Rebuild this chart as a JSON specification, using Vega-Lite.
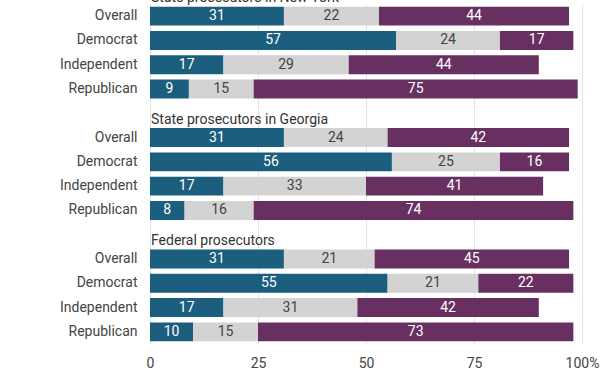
{
  "$schema": "https://vega.github.io/schema/vega-lite/v6.json",
  "width": 432,
  "height": 340,
  "autosize": "none",
  "padding": {"left": 150, "top": 4, "right": 30, "bottom": 30},
  "background": "white",
  "config": {"font": "Roboto", "view": {"stroke": null}},
  "data": {"values": [
    {"key": "NY|Overall", "resp": "a", "value": 31}, {"key": "NY|Overall", "resp": "b", "value": 22}, {"key": "NY|Overall", "resp": "c", "value": 44},
    {"key": "NY|Democrat", "resp": "a", "value": 57}, {"key": "NY|Democrat", "resp": "b", "value": 24}, {"key": "NY|Democrat", "resp": "c", "value": 17},
    {"key": "NY|Independent", "resp": "a", "value": 17}, {"key": "NY|Independent", "resp": "b", "value": 29}, {"key": "NY|Independent", "resp": "c", "value": 44},
    {"key": "NY|Republican", "resp": "a", "value": 9}, {"key": "NY|Republican", "resp": "b", "value": 15}, {"key": "NY|Republican", "resp": "c", "value": 75},
    {"key": "GA|Overall", "resp": "a", "value": 31}, {"key": "GA|Overall", "resp": "b", "value": 24}, {"key": "GA|Overall", "resp": "c", "value": 42},
    {"key": "GA|Democrat", "resp": "a", "value": 56}, {"key": "GA|Democrat", "resp": "b", "value": 25}, {"key": "GA|Democrat", "resp": "c", "value": 16},
    {"key": "GA|Independent", "resp": "a", "value": 17}, {"key": "GA|Independent", "resp": "b", "value": 33}, {"key": "GA|Independent", "resp": "c", "value": 41},
    {"key": "GA|Republican", "resp": "a", "value": 8}, {"key": "GA|Republican", "resp": "b", "value": 16}, {"key": "GA|Republican", "resp": "c", "value": 74},
    {"key": "Fed|Overall", "resp": "a", "value": 31}, {"key": "Fed|Overall", "resp": "b", "value": 21}, {"key": "Fed|Overall", "resp": "c", "value": 45},
    {"key": "Fed|Democrat", "resp": "a", "value": 55}, {"key": "Fed|Democrat", "resp": "b", "value": 21}, {"key": "Fed|Democrat", "resp": "c", "value": 22},
    {"key": "Fed|Independent", "resp": "a", "value": 17}, {"key": "Fed|Independent", "resp": "b", "value": 31}, {"key": "Fed|Independent", "resp": "c", "value": 42},
    {"key": "Fed|Republican", "resp": "a", "value": 10}, {"key": "Fed|Republican", "resp": "b", "value": 15}, {"key": "Fed|Republican", "resp": "c", "value": 73}
  ]},
  "encoding": {
    "y": {
      "field": "key", "type": "nominal",
      "scale": {
        "domain": ["NY|Overall", "NY|Democrat", "NY|Independent", "NY|Republican", "GA|", "GA|Overall", "GA|Democrat", "GA|Independent", "GA|Republican", "Fed|", "Fed|Overall", "Fed|Democrat", "Fed|Independent", "Fed|Republican"],
        "paddingInner": 0.22, "paddingOuter": 0.11
      },
      "axis": {"title": null, "ticks": false, "domain": false, "labelExpr": "split(datum.label, '|')[1]", "labelFontSize": 14, "labelColor": "#444444", "labelPadding": 13, "labelFont": "Roboto"}
    }
  },
  "layer": [
    {
      "mark": {"type": "bar"},
      "encoding": {
        "x": {"field": "value", "type": "quantitative", "stack": "zero",
          "scale": {"domain": [0, 100], "nice": false},
          "axis": {"title": null, "values": [0, 25, 50, 75, 100], "ticks": false, "domain": false, "grid": true, "gridColor": "#e4e4e4", "labelFontSize": 14, "labelColor": "#444444", "labelPadding": 12, "labelFont": "Roboto", "labelFlush": false, "labelExpr": "datum.value == 100 ? '100%' : datum.label"}},
        "color": {"field": "resp", "type": "nominal", "scale": {"domain": ["a", "b", "c"], "range": ["#1b5e7e", "#d3d3d3", "#682f61"]}, "legend": null},
        "order": {"field": "resp", "type": "nominal"}
      }
    },
    {
      "transform": [
        {"stack": "value", "groupby": ["key"], "sort": [{"field": "resp", "order": "ascending"}], "as": ["x0", "x1"]},
        {"calculate": "(datum.x0 + datum.x1) / 2", "as": "mid"}
      ],
      "mark": {"type": "text", "fontSize": 14, "font": "Roboto", "align": "center", "baseline": "middle"},
      "encoding": {
        "x": {"field": "mid", "type": "quantitative"},
        "text": {"field": "value", "type": "quantitative"},
        "color": {"condition": {"test": "datum.resp === 'b'", "value": "#444444"}, "value": "white"}
      }
    },
    {
      "data": {"values": [
        {"key": "NY|Overall", "title": "State prosecutors in New York"},
        {"key": "GA|Overall", "title": "State prosecutors in Georgia"},
        {"key": "Fed|Overall", "title": "Federal prosecutors"}
      ]},
      "mark": {"type": "text", "fontSize": 14, "font": "Roboto", "align": "left", "baseline": "bottom", "dy": -11, "dx": 1, "color": "#333333"},
      "encoding": {
        "x": {"datum": 0, "type": "quantitative"},
        "text": {"field": "title", "type": "nominal"}
      }
    }
  ]
}
